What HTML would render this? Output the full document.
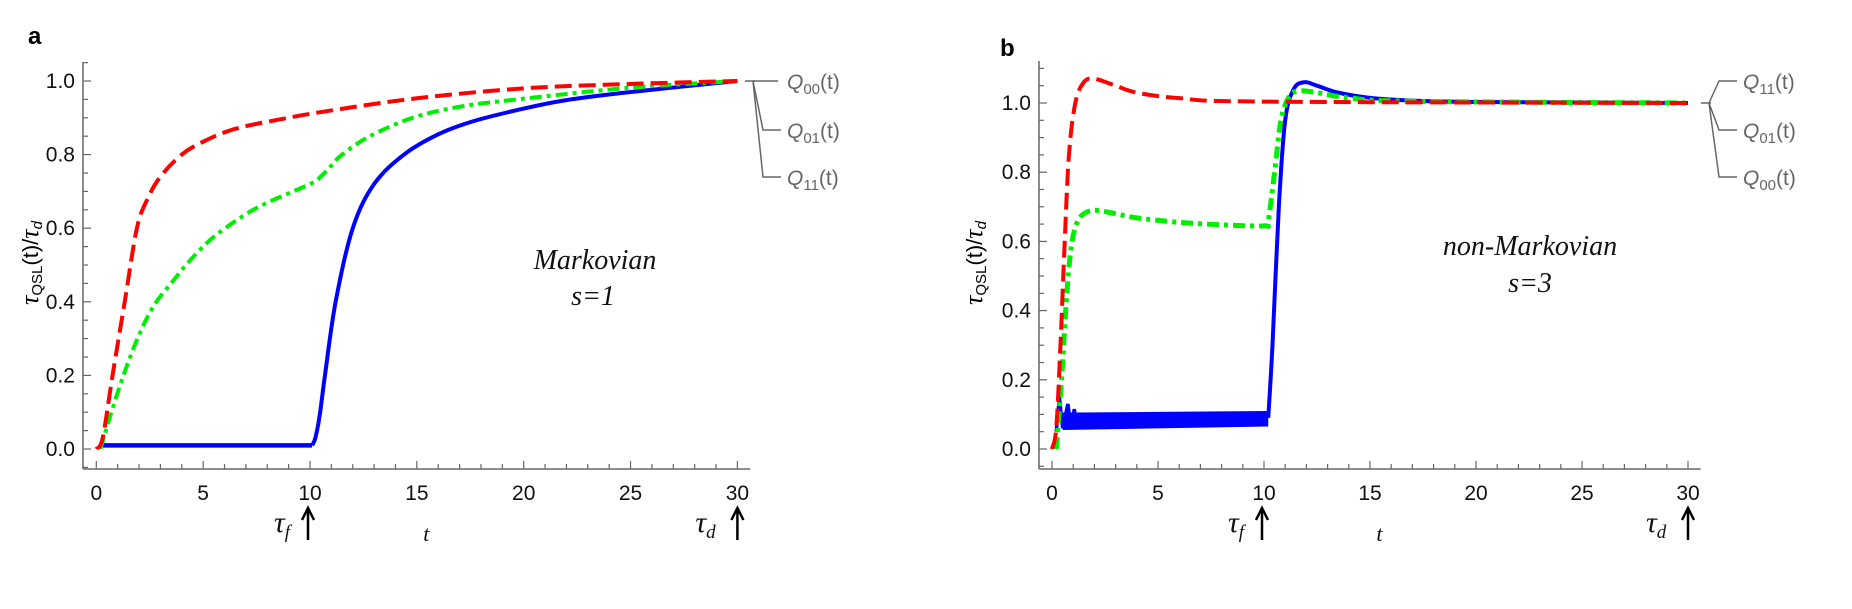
<!DOCTYPE html>
<html><head><meta charset="utf-8"><style>
body{margin:0;background:#fff}
svg{display:block}
text{font-family:"Liberation Sans",sans-serif}
.tk{font-size:21px;fill:#111}
.lg{font-size:21px;fill:#666}
.ann{font-family:"Liberation Serif",serif;font-style:italic;font-size:28px;fill:#111}
</style></head><body>
<svg id="s" width="1852" height="609" viewBox="0 0 1852 609" xmlns="http://www.w3.org/2000/svg">
<text x="28" y="44" style="font-size:24px;font-weight:bold">a</text>
<text x="1000" y="56" style="font-size:24px;font-weight:bold">b</text>
<g id="g"></g>
<text class="ann" x="595" y="269" text-anchor="middle">Markovian</text>
<text class="ann" x="593" y="305" text-anchor="middle">s=1</text>
<text class="ann" x="1530" y="255" text-anchor="middle">non-Markovian</text>
<text class="ann" x="1530" y="292" text-anchor="middle">s=3</text>
</svg>
<script>
var NS="http://www.w3.org/2000/svg",g=document.getElementById('g');
function el(t,a,txt){var e=document.createElementNS(NS,t);for(var k in a)e.setAttribute(k,a[k]);if(txt!==undefined)e.textContent=txt;g.appendChild(e);return e;}
function axes(P){
 var X=function(t){return P.x0+t*P.sx},Y=function(v){return P.y0-v*P.sy};
 el('line',{x1:P.ax,y1:P.top,x2:P.ax,y2:469,stroke:'#666','stroke-width':1.5});
 el('line',{x1:P.ax,y1:469,x2:X(30.6),y2:469,stroke:'#666','stroke-width':1.5});
 for(var i=0;i<=30;i++){var L=i%5==0?8:5;el('line',{x1:X(i),y1:469,x2:X(i),y2:469-L,stroke:'#666','stroke-width':1.2});
  if(i%5==0)el('text',{x:X(i),y:500,'text-anchor':'middle',class:'tk'},''+i);}
 for(var k=-1;k*0.05<=P.ymax;k++){var v=k*0.05,y=Y(v);if(y>468)continue;var maj=k%4==0;
  el('line',{x1:P.ax,y1:y,x2:P.ax+(maj?8:5),y2:y,stroke:'#666','stroke-width':1.2});
  if(maj&&k>=0)el('text',{x:P.ax-8,y:y+7,'text-anchor':'end',class:'tk'},v.toFixed(1));}
 var t=el('text',{x:0,y:0,transform:'translate('+P.lx+',263) rotate(-90)','text-anchor':'middle',style:'font-size:22px'});
 t.innerHTML='<tspan style="font-family:Liberation Serif;font-style:italic;font-size:26px">τ</tspan><tspan font-size="15" dy="4">QSL</tspan><tspan dy="-4">(t)/</tspan><tspan style="font-family:Liberation Serif;font-style:italic;font-size:26px">τ</tspan><tspan font-size="15" dy="4" style="font-style:italic">d</tspan>';
 el('text',{x:X(10)-36,y:532,class:'ann',style:'font-size:30px'}).innerHTML='τ<tspan font-size="19" dy="6">f</tspan>';
 el('text',{x:X(30)-42,y:532,class:'ann',style:'font-size:30px'}).innerHTML='τ<tspan font-size="19" dy="6">d</tspan>';
 [X(10)-2,X(30)].forEach(function(x){el('line',{x1:x,y1:540,x2:x,y2:510,stroke:'#000','stroke-width':2.5});el('path',{d:'M'+(x-6)+' 520 L'+x+' 508 L'+(x+6)+' 520',fill:'none',stroke:'#000','stroke-width':2.5});});
 el('text',{x:X(15.3),y:541,class:'ann',style:'font-size:22px'},'t');
 return [X,Y];
}
function path(pts,X,Y){var p=pts.map(function(q){return [X(q[0]),Y(q[1])]});var d='M'+p[0][0]+' '+p[0][1];
 for(var i=0;i<p.length-1;i++){var a=p[i-1]||p[i],b=p[i],c=p[i+1],e=p[i+2]||c;
  d+=' C'+(b[0]+(c[0]-a[0])/6)+' '+(b[1]+(c[1]-a[1])/6)+' '+(c[0]-(e[0]-b[0])/6)+' '+(c[1]-(e[1]-b[1])/6)+' '+c[0]+' '+c[1];}
 return d;}
function legend(x0,y0,ys,labs){el('line',{x1:x0,y1:y0,x2:x0+10,y2:y0,stroke:'#666','stroke-width':1.5});
 ys.forEach(function(y,i){var sx=x0+8;el('path',{d:'M'+sx+' '+y0+' L'+(sx+(y==y0?25:10))+' '+y+(y==y0?'':' L'+(sx+28)+' '+y),fill:'none',stroke:'#666','stroke-width':1.5});
  el('text',{x:x0+42,y:y+8,class:'lg'}).innerHTML='<tspan style="font-style:italic">Q</tspan><tspan font-size="15" dy="5">'+labs[i]+'</tspan><tspan dy="-5">(t)</tspan>';});}
// Panel a
var A=axes({x0:96.3,sx:21.37,y0:449,sy:368,ax:83,top:62,ymax:1.05,lx:38});
var X=A[0],Y=A[1];
el('path',{d:'M'+X(0.3)+' '+Y(0.01)+' L'+X(10.1)+' '+Y(0.01),fill:'none',stroke:'#0000ff','stroke-width':4.5});
var blueA=[[10.1,0.01],[10.25,0.03],[10.45,0.09],[10.7,0.2],[11.2,0.4],[12,0.6],[13,0.72],[14.4,0.8],[16,0.855],[17.6,0.89],[20,0.925],[22,0.948],[25,0.97],[30,1]];
el('path',{d:path(blueA,X,Y),fill:'none',stroke:'#0000ff','stroke-width':4});
el('path',{d:path([[0.2,0],[0.6,0.08],[1.27,0.2],[2,0.31],[2.7,0.39],[3.5,0.45],[4.2,0.5],[5,0.55],[5.8,0.59],[7.5,0.655],[10,0.72],[10.5,0.74],[11,0.77],[11.5,0.8],[12.8,0.85],[14.8,0.9],[17,0.93],[19.7,0.95],[25,0.982],[30,1]],X,Y),fill:'none',stroke:'#00ee00','stroke-width':4,'stroke-dasharray':'12 5 4 5'});
el('path',{d:path([[0,0],[0.3,0.03],[0.76,0.2],[1.33,0.4],[1.9,0.6],[2.4,0.68],[3,0.74],[4,0.8],[5,0.835],[6.5,0.87],[8.8,0.898],[11,0.92],[15,0.953],[20,0.98],[25,0.992],[30,1]],X,Y),fill:'none',stroke:'#ff0000','stroke-width':4,'stroke-dasharray':'17 7'});
legend(745,81,[81,130,177],['00','01','11']);
// Panel b
var B=axes({x0:1052,sx:21.2,y0:449,sy:346,ax:1039,top:61,ymax:1.12,lx:982});
X=B[0];Y=B[1];
el('path',{d:'M'+X(0.5)+' '+Y(0.105)+' L'+X(10.2)+' '+Y(0.11)+' L'+X(10.2)+' '+Y(0.065)+' L'+X(0.5)+' '+Y(0.055)+' Z',fill:'#0000ff'});
el('path',{d:'M'+X(0.2)+' '+Y(0.05)+' L'+X(0.35)+' '+Y(0.15)+' L'+X(0.5)+' '+Y(0.06)+' L'+X(0.75)+' '+Y(0.13)+' L'+X(0.9)+' '+Y(0.06)+' L'+X(1.05)+' '+Y(0.115)+' L'+X(1.2)+' '+Y(0.06),fill:'none',stroke:'#0000ff','stroke-width':3.5});
el('path',{d:path([[10.2,0.09],[10.4,0.3],[10.7,0.7],[11,0.95],[11.4,1.04],[11.9,1.06],[12.5,1.05],[13.5,1.03],[15,1.015],[17,1.007],[20,1.003],[30,1]],X,Y),fill:'none',stroke:'#0000ff','stroke-width':4});
el('path',{d:path([[0.2,0],[0.45,0.2],[0.7,0.45],[0.9,0.58],[1.1,0.64],[1.4,0.675],[2,0.69],[3,0.68],[4,0.668],[6,0.655],[8,0.648],[10,0.645],[10.2,0.66],[10.5,0.8],[10.8,0.95],[11.2,1.02],[11.7,1.035],[12.5,1.03],[14,1.015],[17,1.005],[30,1]],X,Y),fill:'none',stroke:'#00ee00','stroke-width':5,'stroke-dasharray':'12 5 4 5'});
el('path',{d:path([[0,0],[0.2,0.06],[0.4,0.3],[0.6,0.6],[0.8,0.85],[1.1,1.0],[1.5,1.06],[2,1.07],[3,1.05],[4,1.03],[6,1.014],[10,1.004],[30,1]],X,Y),fill:'none',stroke:'#ff0000','stroke-width':4,'stroke-dasharray':'17 7'});
legend(1701,103,[81,130,177],['11','01','00']);
</script>
</body></html>
